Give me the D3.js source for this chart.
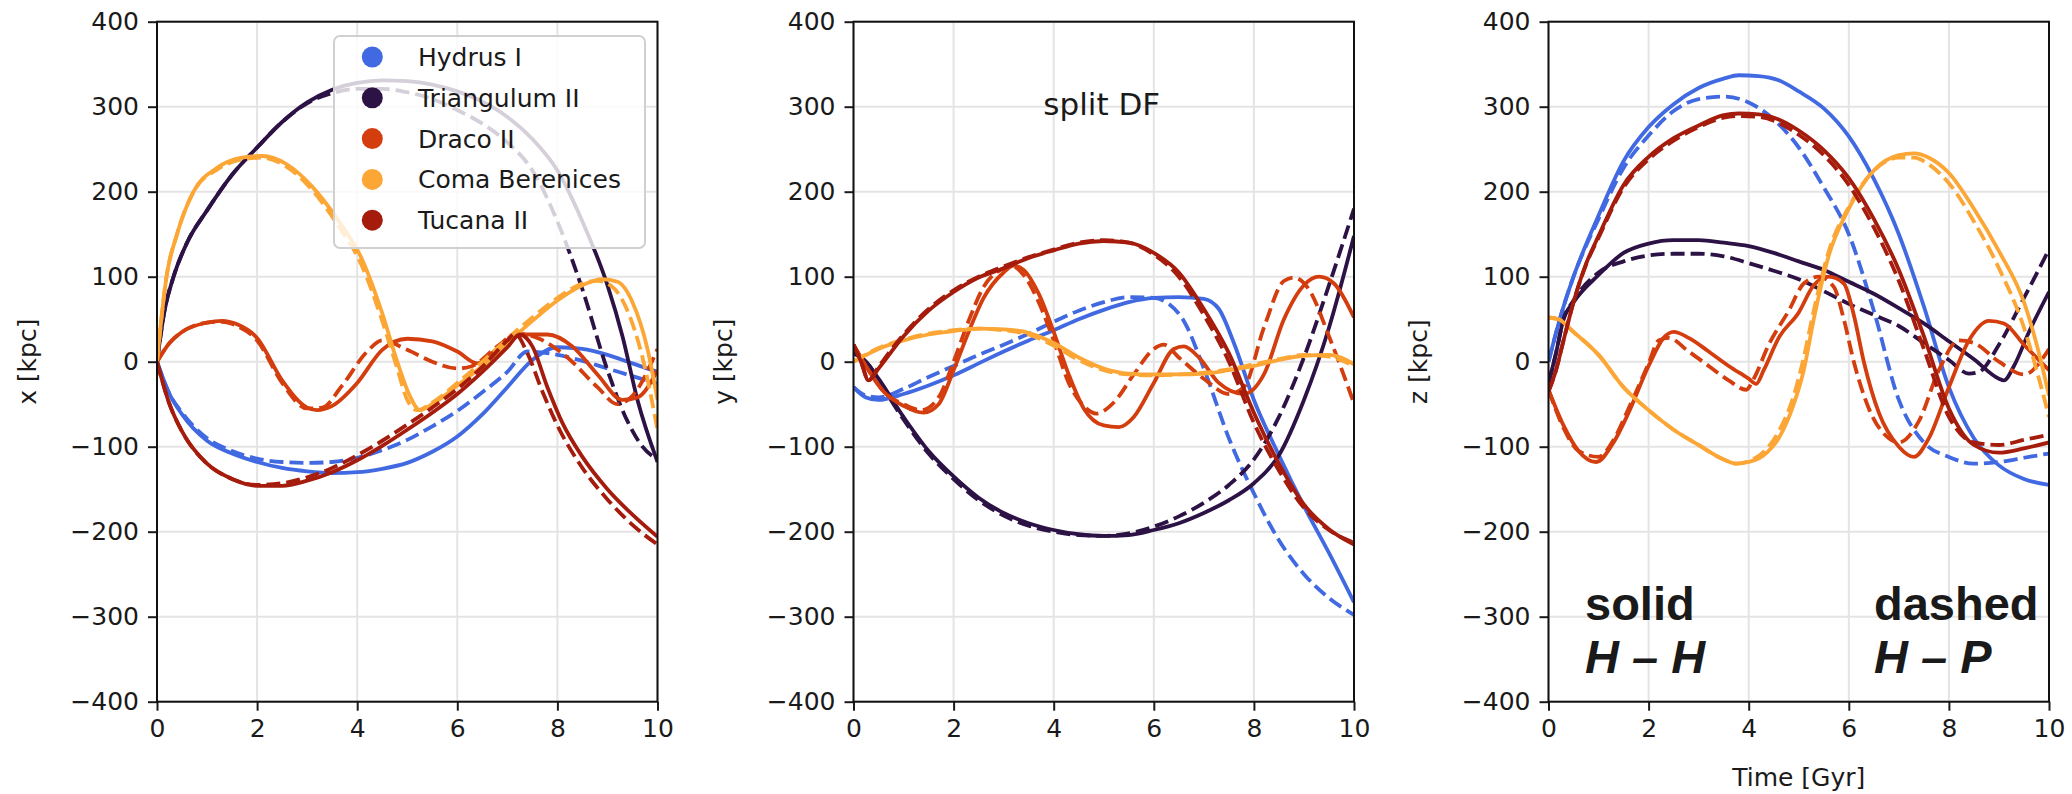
<!DOCTYPE html>
<html><head><meta charset="utf-8">
<script src="https://cdn.jsdelivr.net/npm/d3@7"></script>
<style>
body{margin:0;background:#fff}
svg{display:block}
text{font-family:"DejaVu Sans",sans-serif;fill:#1a1a1a}
</style></head><body>
<svg id="c" width="2072" height="794"></svg>
<script>
// ---------------- DATA ----------------
const timeTicks = [0, 2, 4, 6, 8, 10];
const valueTicks = [-400, -300, -200, -100, 0, 100, 200, 300, 400];
const seriesNames = ["Hydrus I", "Triangulum II", "Draco II", "Coma Berenices", "Tucana II"];
const seriesColors = ["#4169e1", "#2d1245", "#d43d0d", "#fca636", "#a51c0d"];
const axisLabels = ["x [kpc]", "y [kpc]", "z [kpc]"];
const xAxisTitle = "Time [Gyr]";
const panelNote = "split DF";
const styleNotes = [["solid", "H – H"], ["dashed", "H – P"]];

// Panel 1 : x [kpc]   ([time Gyr, value kpc])
const xHydrusSolid = [[0,0],[0.25,-38],[0.5,-62],[1,-93],[1.5,-108],[2,-118],[2.5,-125],[3,-129],[3.5,-131],[4,-130],[4.5,-126],[5,-119],[5.5,-106],[6,-88],[6.5,-62],[7,-30],[7.5,2],[8,17],[8.5,15],[9,8],[9.5,-2],[10,-12]];
const xHydrusDashed = [[0,0],[0.25,-38],[0.5,-60],[1,-90],[1.5,-105],[2,-114],[2.5,-118],[3,-119],[3.5,-118],[4,-113],[4.5,-104],[5,-92],[5.5,-76],[6,-58],[6.5,-36],[7,-12],[7.4,12],[7.8,10],[8.5,1],[9,-8],[9.5,-17],[10,-26]];
const xTriangulumSolid = [[0,0],[0.15,60],[0.33,100],[0.6,140],[1,178],[1.5,220],[2,252],[2.5,282],[3,305],[3.5,320],[4,328],[4.5,331],[5,330],[5.5,326],[6,318],[6.5,306],[7,288],[7.5,262],[8,225],[8.5,165],[9,90],[9.3,30],[9.6,-45],[10,-118]];
const xTriangulumDashed = [[0,0],[0.15,60],[0.33,100],[0.6,140],[1,178],[1.5,220],[2,252],[2.5,282],[3,304],[3.5,316],[4,321],[4.5,321],[5,317],[5.5,309],[6,296],[6.5,280],[7,258],[7.5,225],[8,165],[8.5,85],[9,-10],[9.4,-70],[9.7,-100],[10,-115]];
const xDracoSolid = [[0,0],[0.25,22],[0.5,35],[1,46],[1.3,48],[1.6,44],[2,28],[2.5,-22],[3,-54],[3.2,-57],[3.5,-52],[4,-25],[4.5,14],[5,27],[5.5,24],[6,12],[6.4,-2],[6.8,15],[7.3,32],[7.8,32],[8.3,18],[8.8,-15],[9.3,-45],[9.6,-42],[10,-10]];
const xDracoDashed = [[0,0],[0.25,22],[0.5,35],[1,46],[1.3,47],[1.6,42],[2,25],[2.5,-25],[3,-55],[3.3,-54],[3.7,-28],[4.2,12],[4.5,25],[5,14],[5.5,0],[6,-8],[6.3,-5],[6.8,18],[7.2,33],[7.6,28],[8.2,5],[8.8,-30],[9.2,-50],[9.5,-40],[10,15]];
const xComaSolid = [[0,0],[0.19,100],[0.4,150],[0.73,200],[1.2,228],[1.7,240],[2.1,242],[2.6,232],[3.1,206],[3.6,168],[4.1,120],[4.5,57],[4.8,0],[5.05,-40],[5.25,-57],[5.5,-50],[6,-28],[6.5,-5],[7,22],[7.5,48],[8,72],[8.5,90],[8.9,97],[9.2,94],[9.5,70],[9.8,15],[10,-45]];
const xComaDashed = [[0,0],[0.19,100],[0.4,150],[0.73,200],[1.2,226],[1.7,238],[2.1,240],[2.6,229],[3.1,202],[3.6,162],[4.1,112],[4.5,48],[4.8,-8],[5,-45],[5.2,-57],[5.5,-48],[6,-25],[6.5,0],[7,27],[7.5,52],[8,75],[8.5,92],[8.8,95],[9.1,88],[9.4,60],[9.7,5],[10,-80]];
const xTucanaSolid = [[0,0],[0.25,-50],[0.5,-82],[1,-120],[1.5,-138],[2,-146],[2.5,-146],[3,-140],[3.5,-130],[4,-116],[4.5,-99],[5,-80],[5.5,-60],[6,-38],[6.5,-12],[7,17],[7.25,32],[7.5,18],[7.8,-30],[8.1,-72],[8.5,-112],[9,-150],[9.5,-180],[10,-206]];
const xTucanaDashed = [[0,0],[0.25,-50],[0.5,-82],[1,-120],[1.5,-138],[2,-145],[2.5,-143],[3,-136],[3.5,-125],[4,-110],[4.5,-93],[5,-74],[5.5,-54],[6,-32],[6.5,-6],[7,25],[7.15,33],[7.4,10],[7.7,-35],[8,-75],[8.5,-125],[9,-162],[9.5,-192],[10,-215]];

// Panel 2 : y [kpc]
const yHydrusSolid = [[0,-30],[0.25,-42],[0.5,-45],[1,-38],[1.5,-28],[2,-16],[2.5,-2],[3,12],[3.5,25],[4,37],[4.5,50],[5,61],[5.5,70],[6,75],[6.5,76],[7,74],[7.3,62],[7.6,22],[8,-45],[8.5,-110],[9,-170],[9.5,-225],[10,-283]];
const yHydrusDashed = [[0,-30],[0.25,-40],[0.5,-42],[1,-32],[1.5,-18],[2,-5],[2.5,8],[3,20],[3.5,33],[4,47],[4.5,60],[5,70],[5.5,76],[6,75],[6.3,68],[6.6,48],[7,-8],[7.5,-90],[8,-155],[8.5,-210],[9,-250],[9.5,-278],[10,-298]];
const yTriangulumSolid = [[0,10],[0.25,0],[0.5,-20],[1,-65],[1.5,-105],[2,-135],[2.5,-160],[3,-178],[3.5,-190],[4,-198],[4.5,-203],[5,-205],[5.5,-204],[6,-198],[6.5,-190],[7,-178],[7.5,-163],[8,-143],[8.5,-110],[9,-45],[9.5,40],[10,148]];
const yTriangulumDashed = [[0,10],[0.25,0],[0.5,-22],[1,-68],[1.5,-108],[2,-138],[2.5,-163],[3,-181],[3.5,-193],[4,-200],[4.5,-204],[5,-205],[5.5,-202],[6,-194],[6.5,-182],[7,-166],[7.5,-145],[8,-115],[8.5,-65],[9,5],[9.5,90],[10,180]];
const yDracoSolid = [[0,20],[0.3,-10],[0.6,-35],[1,-52],[1.4,-60],[1.7,-50],[2,-10],[2.3,35],[2.6,75],[3,105],[3.2,113],[3.4,108],[3.7,80],[4,35],[4.3,-15],[4.6,-55],[5,-75],[5.3,-77],[5.6,-65],[6,-25],[6.4,15],[6.6,18],[6.9,5],[7.3,-25],[7.8,-38],[8.2,-15],[8.6,50],[9,90],[9.3,100],[9.6,92],[10,52]];
const yDracoDashed = [[0,20],[0.3,-10],[0.6,-35],[1,-50],[1.35,-57],[1.7,-42],[2,0],[2.3,48],[2.6,88],[3,110],[3.15,113],[3.4,102],[3.7,70],[4,25],[4.3,-25],[4.6,-52],[4.85,-61],[5.2,-48],[5.6,-15],[6,15],[6.2,20],[6.5,5],[7,-20],[7.5,-38],[7.8,-30],[8.2,40],[8.6,95],[8.8,99],[9.1,85],[9.5,30],[10,-49]];
const yComaSolid = [[0,0],[0.5,15],[1,25],[1.5,32],[2,36],[2.5,39],[3,38],[3.5,34],[4,22],[4.5,5],[5,-8],[5.5,-14],[6,-15],[6.5,-15],[7,-14],[7.5,-10],[8,-5],[8.5,2],[9,7],[9.5,8],[10,-3]];
const yComaDashed = [[0,0],[0.5,16],[1,26],[1.5,33],[2,37],[2.5,39],[3,37],[3.5,32],[4,19],[4.5,2],[5,-10],[5.5,-15],[6,-16],[6.5,-15],[7,-13],[7.5,-9],[8,-3],[8.5,3],[9,8],[9.5,6],[10,-5]];
const yTucanaSolid = [[0,20],[0.15,0],[0.3,-22],[0.5,-8],[1,30],[1.5,60],[2,82],[2.5,99],[3,110],[3.5,122],[4,131],[4.5,139],[5,142],[5.5,140],[6,128],[6.5,105],[7,62],[7.5,10],[8,-60],[8.5,-120],[9,-168],[9.5,-197],[10,-215]];
const yTucanaDashed = [[0,20],[0.15,0],[0.3,-22],[0.5,-6],[1,32],[1.5,62],[2,84],[2.5,100],[3,112],[3.5,123],[4,132],[4.5,140],[5,143],[5.5,140],[6,126],[6.5,100],[7,55],[7.5,0],[8,-72],[8.5,-128],[9,-172],[9.5,-198],[10,-213]];

// Panel 3 : z [kpc]
const zHydrusSolid = [[0,0],[0.25,55],[0.5,100],[1,172],[1.5,236],[2,276],[2.5,303],[3,322],[3.5,333],[3.8,337],[4.2,336],[4.6,331],[5,318],[5.5,298],[6,265],[6.5,215],[7,150],[7.5,65],[8,-30],[8.5,-90],[9,-122],[9.5,-138],[10,-145]];
const zHydrusDashed = [[0,0],[0.25,55],[0.5,100],[1,168],[1.5,228],[2,266],[2.5,295],[3,309],[3.5,312],[4,305],[4.5,285],[5,252],[5.5,205],[6,150],[6.5,60],[7,-45],[7.5,-95],[8,-112],[8.5,-120],[9,-118],[9.5,-113],[10,-108]];
const zTriangulumSolid = [[0,-25],[0.15,10],[0.3,50],[0.5,70],[1,102],[1.5,128],[2,139],[2.5,143],[3,143],[3.5,140],[4,136],[4.5,128],[5,118],[5.5,108],[6,94],[6.5,80],[7,63],[7.5,45],[8,24],[8.5,3],[9,-20],[9.1,-22],[9.3,-5],[9.6,35],[10,82]];
const zTriangulumDashed = [[0,-25],[0.15,10],[0.3,50],[0.5,72],[1,105],[1.5,118],[2,125],[2.5,127],[3,127],[3.5,124],[4,116],[4.5,107],[5,97],[5.5,83],[6,68],[6.5,55],[7,42],[7.5,22],[8,2],[8.4,-14],[8.6,-12],[9,20],[9.5,75],[10,132]];
const zDracoSolid = [[0,-33],[0.3,-75],[0.6,-105],[0.95,-118],[1.3,-95],[1.6,-60],[2,-5],[2.3,28],[2.5,35],[2.8,28],[3.2,12],[3.6,-5],[4,-20],[4.15,-26],[4.3,-10],[4.6,28],[5,58],[5.3,90],[5.6,100],[5.9,92],[6.1,55],[6.3,0],[6.6,-60],[7,-100],[7.3,-112],[7.6,-90],[8,-30],[8.4,25],[8.8,48],[9.1,45],[9.5,20],[10,-10]];
const zDracoDashed = [[0,-33],[0.3,-78],[0.6,-105],[1,-112],[1.3,-92],[1.6,-55],[2,-2],[2.2,25],[2.4,28],[2.8,12],[3.2,-5],[3.6,-22],[3.95,-33],[4.1,-20],[4.4,20],[4.8,60],[5.1,92],[5.4,100],[5.7,88],[5.9,50],[6.1,0],[6.4,-55],[6.8,-90],[7,-95],[7.4,-70],[7.8,-10],[8.2,25],[8.5,22],[9,0],[9.5,-15],[10,15]];
const zComaSolid = [[0,52],[0.2,50],[0.5,35],[1,8],[1.5,-30],[2,-57],[2.5,-80],[3,-98],[3.5,-115],[3.75,-120],[4,-118],[4.3,-110],[4.6,-90],[4.9,-50],[5.1,-10],[5.3,50],[5.6,125],[6,180],[6.5,225],[7,243],[7.3,245],[7.6,240],[8,222],[8.5,180],[9,130],[9.5,70],[9.8,10],[10,-40]];
const zComaDashed = [[0,52],[0.2,50],[0.5,35],[1,8],[1.5,-30],[2,-57],[2.5,-80],[3,-98],[3.5,-115],[3.75,-120],[4,-117],[4.3,-106],[4.6,-82],[4.9,-40],[5.1,5],[5.3,60],[5.6,130],[6,182],[6.5,225],[7,240],[7.3,240],[7.6,232],[8,210],[8.5,165],[9,110],[9.5,40],[9.8,-20],[10,-65]];
const zTucanaSolid = [[0,-35],[0.15,-10],[0.3,25],[0.5,70],[0.75,115],[1,148],[1.5,208],[2,241],[2.5,263],[3,278],[3.5,290],[3.8,292],[4.2,291],[4.6,285],[5,272],[5.5,249],[6,216],[6.5,168],[7,108],[7.5,30],[8,-55],[8.5,-98],[9,-107],[9.5,-102],[10,-95]];
const zTucanaDashed = [[0,-35],[0.15,-10],[0.3,25],[0.5,70],[0.75,114],[1,146],[1.5,205],[2,238],[2.5,260],[3,276],[3.5,287],[3.8,289],[4.2,288],[4.6,281],[5,267],[5.5,243],[6,208],[6.5,158],[7,95],[7.5,15],[8,-65],[8.5,-95],[9,-98],[9.5,-92],[10,-86]];

// ---------------- LAYOUT ----------------
const svg = d3.select("#c");
const TOP = 21.7, BOTTOM = 701.7;
const panelLefts = [157, 853.5, 1548.5];
const PW = 500.5;
const FS = 25;

const panelSeries = [
  [[xHydrusSolid,xHydrusDashed],[xTriangulumSolid,xTriangulumDashed],[xDracoSolid,xDracoDashed],[xComaSolid,xComaDashed],[xTucanaSolid,xTucanaDashed]],
  [[yHydrusSolid,yHydrusDashed],[yTriangulumSolid,yTriangulumDashed],[yDracoSolid,yDracoDashed],[yComaSolid,yComaDashed],[yTucanaSolid,yTucanaDashed]],
  [[zHydrusSolid,zHydrusDashed],[zTriangulumSolid,zTriangulumDashed],[zDracoSolid,zDracoDashed],[zComaSolid,zComaDashed],[zTucanaSolid,zTucanaDashed]]
];

const y = d3.scaleLinear().domain([-400, 400]).range([BOTTOM, TOP]);

panelLefts.forEach((L, pi) => {
  const x = d3.scaleLinear().domain([0, 10]).range([L, L + PW]);
  const g = svg.append("g");
  // grid
  g.append("g").selectAll("line").data(timeTicks).join("line")
    .attr("x1", d => x(d)).attr("x2", d => x(d)).attr("y1", TOP).attr("y2", BOTTOM)
    .attr("stroke", "#e4e4e4").attr("stroke-width", 2);
  g.append("g").selectAll("line").data(valueTicks).join("line")
    .attr("x1", L).attr("x2", L + PW).attr("y1", d => y(d)).attr("y2", d => y(d))
    .attr("stroke", "#e4e4e4").attr("stroke-width", 2);

  // clip
  const cid = "clip" + pi;
  svg.append("clipPath").attr("id", cid).append("rect")
    .attr("x", L).attr("y", TOP).attr("width", PW).attr("height", BOTTOM - TOP);

  const line = d3.line().x(d => x(d[0])).y(d => y(d[1])).curve(d3.curveMonotoneX);
  const lg = g.append("g").attr("clip-path", `url(#${cid})`);
  panelSeries[pi].forEach((pair, si) => {
    pair.forEach((arr, k) => {
      lg.append("path").attr("d", line(arr)).attr("fill", "none")
        .attr("stroke", seriesColors[si]).attr("stroke-width", 3.8)
        .attr("stroke-dasharray", k === 1 ? "14 6" : null);
    });
  });

  // axes
  const ax = g.append("g").attr("transform", `translate(0,${BOTTOM})`)
    .call(d3.axisBottom(x).tickValues(timeTicks).tickFormat(d3.format("d")).tickSize(9).tickPadding(9));
  const ay = g.append("g").attr("transform", `translate(${L},0)`)
    .call(d3.axisLeft(y).tickValues(valueTicks).tickFormat(d3.format("d")).tickSize(9).tickPadding(9));
  [ax, ay].forEach(a => {
    a.select(".domain").remove();
    a.selectAll(".tick line").attr("stroke", "#1a1a1a").attr("stroke-width", 2);
    a.selectAll(".tick text").attr("font-size", FS).attr("font-family", "DejaVu Sans").attr("fill", "#1a1a1a");
  });
  // frame
  g.append("rect").attr("x", L).attr("y", TOP).attr("width", PW).attr("height", BOTTOM - TOP)
    .attr("fill", "none").attr("stroke", "#111").attr("stroke-width", 2);

  // y label
  g.append("text").attr("transform", `translate(${L - 130},${(TOP + BOTTOM) / 2}) rotate(-90)`)
    .attr("text-anchor", "middle").attr("dy", "0.35em").attr("font-size", FS).text(axisLabels[pi]);

  if (pi === 1) {
    g.append("text").attr("x", L + PW / 2 - 2).attr("y", 115).attr("text-anchor", "middle")
      .attr("font-size", 31).text(panelNote);
  }
  if (pi === 2) {
    g.append("text").attr("x", L + PW / 2).attr("y", 786).attr("text-anchor", "middle")
      .attr("font-size", FS).text(xAxisTitle);
    const noteX = [1585, 1874];
    styleNotes.forEach((n, i) => {
      g.append("text").attr("x", noteX[i]).attr("y", 620)
        .style("font-family", "'Liberation Sans', Arial, sans-serif").attr("font-weight", "bold")
        .attr("font-size", 47).attr("fill", "#000").text(n[0]);
      g.append("text").attr("x", noteX[i]).attr("y", 673)
        .style("font-family", "'Liberation Sans', Arial, sans-serif").attr("font-weight", "bold")
        .attr("font-style", "italic").attr("font-size", 47).attr("fill", "#000").text(n[1]);
    });
  }
  if (pi === 0) {
    const lgG = g.append("g");
    lgG.append("rect").attr("x", 334).attr("y", 36).attr("width", 311).attr("height", 212)
      .attr("rx", 6).attr("fill", "#fff").attr("fill-opacity", 0.8)
      .attr("stroke", "#d0d0d0").attr("stroke-width", 2);
    seriesNames.forEach((nm, i) => {
      const cy = 57 + i * 40.8;
      lgG.append("circle").attr("cx", 372.3).attr("cy", cy).attr("r", 10.5).attr("fill", seriesColors[i]);
      lgG.append("text").attr("x", 418).attr("y", cy).attr("dy", "0.36em").attr("font-size", FS).text(nm);
    });
  }
});
</script>
</body></html>
